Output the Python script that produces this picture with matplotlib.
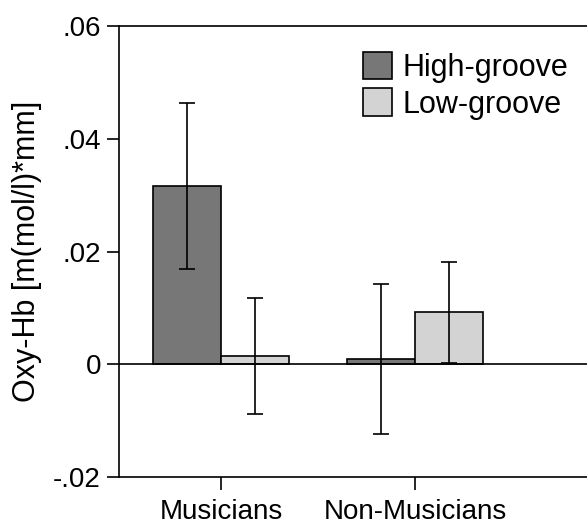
import matplotlib
matplotlib.use('Agg')
import matplotlib.pyplot as plt
import numpy as np

plt.rcParams['font.family'] = ['Liberation Sans', 'DejaVu Sans']

# data
groups = ['Musicians', 'Non-Musicians']
high_groove = [0.0316, 0.0010]
high_err = [0.0147, 0.0133]
low_groove = [0.0015, 0.0092]
low_err = [0.0103, 0.0090]

fig = plt.figure(figsize=(5.87, 5.24), dpi=100)
# right edge runs off the canvas like in the reference
ax = fig.add_axes([119 / 587, 47 / 524, (600 - 119) / 587, 451 / 524])

x = np.arange(len(groups))
w = 0.353
ekw = dict(elinewidth=1.2, capthick=1.2, ecolor='black')
ax.bar(x - w / 2, high_groove, w, yerr=high_err, capsize=6,
       color='#777777', edgecolor='black', linewidth=1.2,
       error_kw=ekw, label='High-groove')
ax.bar(x + w / 2, low_groove, w, yerr=low_err, capsize=6,
       color='#d3d3d3', edgecolor='black', linewidth=1.2,
       error_kw=ekw, label='Low-groove')

ax.axhline(0, color='black', linewidth=1.2, zorder=3)

ax.set_xlim(-0.526, 1.954)
ax.set_ylim(-0.02, 0.06)
ax.set_yticks([-0.02, 0, 0.02, 0.04, 0.06])
ax.set_yticklabels(['-.02', '0', '.02', '.04', '.06'])
ax.set_xticks(x)
ax.set_xticklabels(groups)

for s in ['left', 'top', 'bottom']:
    ax.spines[s].set_linewidth(1.2)
ax.spines['right'].set_visible(False)

ax.tick_params(axis='y', direction='out', length=9, width=1.2,
               labelsize=20, pad=4)
ax.tick_params(axis='x', direction='out', length=9, width=1.2,
               labelsize=20, pad=7)
ax.set_ylabel('Oxy-Hb [m(mol/l)*mm]', fontsize=22, labelpad=8)

ax.legend(loc='upper left', bbox_to_anchor=(0.481, 0.97), frameon=False,
          fontsize=22, handlelength=0.95, handleheight=1.0,
          handletextpad=0.35, labelspacing=0.18, borderaxespad=0)

fig.savefig('out.png', dpi=100)
